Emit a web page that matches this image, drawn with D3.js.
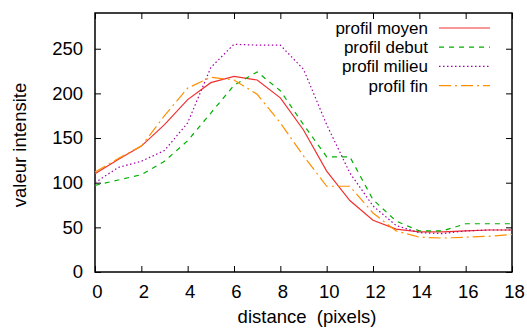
<!DOCTYPE html>
<html>
<head>
<meta charset="utf-8">
<script src="https://cdn.jsdelivr.net/npm/d3@7"></script>
<style>
  body { margin: 0; background: #fff; }
  text { font-family: "Liberation Sans", Arial, sans-serif; fill: #000; }
</style>
</head>
<body>
<div class="container"></div>
<script>
// distance in pixels
const distance = [0, 1, 2, 3, 4, 5, 6, 7, 8, 9, 10, 11, 12, 13, 14, 15, 16, 17, 18];

const moyen  = [110, 126, 141, 165, 193, 212, 219, 215, 195, 159, 113, 80, 58, 48, 45, 45, 46, 47, 47];
const debut  = [97, 103, 109, 124, 147, 178, 209, 224, 203, 165, 129, 129, 81, 57, 46, 46, 54, 54, 54];
const milieu = [100, 117, 124, 136, 167, 229, 255, 254, 254, 227, 165, 111, 74, 52, 44, 43, 46, 47, 47];
const fin    = [112, 127, 141, 175, 206, 218, 215, 199, 167, 130, 96, 96, 66, 46, 39, 38, 39, 40, 42];

const xTicks = [0, 2, 4, 6, 8, 10, 12, 14, 16, 18];
const yTicks = [0, 50, 100, 150, 200, 250];

const seriesNames = ['profil moyen', 'profil debut', 'profil milieu', 'profil fin'];

const W = 527;
const H = 331;
const margin = { top: 13, right: 15, bottom: 59, left: 95 };
const width = W - margin.left - margin.right;
const height = H - margin.top - margin.bottom;

const series = [
  { name: seriesNames[0], values: moyen, color: '#f03030', dash: null },
  { name: seriesNames[1], values: debut, color: '#00b000', dash: '5,5' },
  { name: seriesNames[2], values: milieu, color: '#a000a8', dash: '1.5,2.5' },
  { name: seriesNames[3], values: fin, color: '#ff9000', dash: '12,4,2,4' }
];

const svg = d3
  .select('.container')
  .append('svg')
  .attr('width', W)
  .attr('height', H);

const graph = svg
  .append('g')
  .attr('transform', `translate(${margin.left}, ${margin.top})`);

const x = d3.scaleLinear().domain([0, 18]).range([0, width]);
const y = d3.scaleLinear().domain([0, 290]).range([height, 0]);

// axes with inward ticks, mirrored on top/right
const fontSize = 18.5;
const legendFont = 17;

graph
  .append('g')
  .attr('transform', `translate(0, ${height})`)
  .call(d3.axisBottom(x).tickValues(xTicks).tickSizeInner(-6).tickSizeOuter(0).tickPadding(13))
  .call(g => g.select('.domain').remove())
  .call(g => g.selectAll('text').attr('font-size', fontSize).attr('dx', 2));

graph
  .append('g')
  .call(d3.axisTop(x).tickValues(xTicks).tickSizeInner(-6).tickSizeOuter(0).tickFormat(''))
  .call(g => g.select('.domain').remove());

graph
  .append('g')
  .call(d3.axisLeft(y).tickValues(yTicks).tickSizeInner(-6).tickSizeOuter(0).tickPadding(12))
  .call(g => g.select('.domain').remove())
  .call(g => g.selectAll('text').attr('font-size', fontSize));

graph
  .append('g')
  .attr('transform', `translate(${width}, 0)`)
  .call(d3.axisRight(y).tickValues(yTicks).tickSizeInner(-6).tickSizeOuter(0).tickFormat(''))
  .call(g => g.select('.domain').remove());

graph.selectAll('.tick line').attr('stroke', '#000');

// frame
graph
  .append('rect')
  .attr('x', 0)
  .attr('y', 0)
  .attr('width', width)
  .attr('height', height)
  .attr('fill', 'none')
  .attr('stroke', '#000')
  .attr('stroke-width', 1.5);

// axis titles
svg
  .append('text')
  .attr('transform', 'translate(26, 145) rotate(-90)')
  .attr('text-anchor', 'middle')
  .attr('font-size', fontSize)
  .text('valeur intensite');

svg
  .append('text')
  .attr('x', 307)
  .attr('y', 323)
  .attr('text-anchor', 'middle')
  .attr('font-size', fontSize)
  .attr('xml:space', 'preserve')
  .style('white-space', 'pre')
  .text('distance  (pixels)');

// lines
const line = d3
  .line()
  .x((d, i) => x(distance[i]))
  .y(d => y(d));

graph
  .selectAll('.serie')
  .data(series)
  .enter()
  .append('path')
  .attr('class', 'serie')
  .attr('d', d => line(d.values))
  .attr('fill', 'none')
  .attr('stroke', d => d.color)
  .attr('stroke-width', 1.2)
  .attr('stroke-dasharray', d => d.dash);

// legend
const legend = svg
  .selectAll('.legend')
  .data(series)
  .enter()
  .append('g')
  .attr('class', 'legend')
  .attr('transform', (d, i) => `translate(0, ${28 + i * 19.2})`);

legend
  .append('text')
  .attr('x', 428)
  .attr('y', 6)
  .attr('text-anchor', 'end')
  .attr('font-size', legendFont)
  .text(d => d.name);

legend
  .append('line')
  .attr('x1', 439)
  .attr('x2', 490)
  .attr('y1', 0)
  .attr('y2', 0)
  .attr('stroke', d => d.color)
  .attr('stroke-width', 1.2)
  .attr('stroke-dasharray', d => d.dash);
</script>
</body>
</html>
